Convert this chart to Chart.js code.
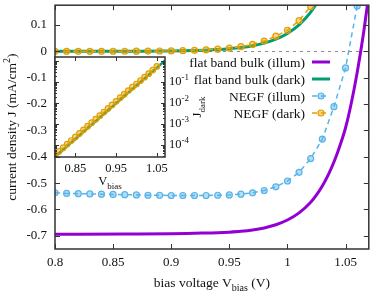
<!DOCTYPE html>
<html>
<head>
<meta charset="utf-8">
<script src="https://cdn.jsdelivr.net/npm/chart.js@4.4.1/dist/chart.umd.min.js"></script>
<style>
  html, body { margin: 0; padding: 0; background: #fff; }
  #wrap { position: relative; width: 374px; height: 291px; }
  #wrap canvas { position: absolute; left: 0; top: 0; }
</style>
</head>
<body>
<div id="wrap">
  <canvas id="mainChart" width="374" height="291"></canvas>
  <canvas id="insetChart" width="374" height="291"></canvas>
</div>
<script>
// flat band bulk (dark) - also used in the log inset
const vFbDark = [0.80, 0.81, 0.82, 0.83, 0.84, 0.85, 0.86, 0.87, 0.88, 0.89, 0.90, 0.91, 0.92, 0.93,
                 0.94, 0.95, 0.96, 0.97, 0.98, 0.99, 1.00, 1.01, 1.02, 1.03, 1.04, 1.05, 1.06, 1.07];
const fbDark = [2.72e-5, 4.02e-5, 5.94e-5, 8.79e-5, 1.30e-4, 1.92e-4, 2.84e-4, 4.20e-4, 6.21e-4, 9.2e-4,
                1.36e-3, 2.01e-3, 2.97e-3, 4.39e-3, 6.5e-3, 9.61e-3, 0.0142, 0.0210, 0.0311, 0.0460,
                0.068, 0.1006, 0.1488, 0.220, 0.325, 0.481, 0.712, 1.053];

// NEGF (dark)
const vNegfDark = [0.80, 0.81, 0.82, 0.83, 0.84, 0.85, 0.86, 0.87, 0.88, 0.89, 0.90, 0.91, 0.92,
                   0.93, 0.94, 0.95, 0.96, 0.97, 0.98, 0.99, 1.00, 1.01, 1.02, 1.03, 1.04, 1.05];
const negfDark = [3.4e-5, 5.0e-5, 7.4e-5, 1.1e-4, 1.63e-4, 2.4e-4, 3.55e-4, 5.25e-4, 7.8e-4, 1.15e-3,
                  1.7e-3, 2.5e-3, 3.7e-3, 5.5e-3, 8.1e-3, 0.012, 0.0178, 0.0263, 0.0389, 0.0575,
                  0.080, 0.117, 0.170, 0.25, 0.37, 0.55];

// NEGF (illum)
const vNegfIllum = [0.80, 0.81, 0.82, 0.83, 0.84, 0.85, 0.86, 0.87, 0.88, 0.89, 0.90, 0.91, 0.92, 0.93,
                    0.94, 0.95, 0.96, 0.97, 0.98, 0.99, 1.00, 1.01, 1.02, 1.03, 1.04, 1.05, 1.06];
const negfIllum = [-0.537, -0.539, -0.540, -0.541, -0.542, -0.543, -0.544, -0.545, -0.546, -0.546,
                   -0.547, -0.547, -0.547, -0.547, -0.546, -0.545, -0.542, -0.537, -0.528, -0.514,
                   -0.492, -0.459, -0.407, -0.333, -0.21, -0.063, 0.172];

// flat band bulk (illum)
const vFbIllum = [0.80, 0.86, 0.90, 0.92, 0.94, 0.95, 0.96, 0.97, 0.98, 0.99, 1.00, 1.01, 1.02,
                  1.025, 1.03, 1.035, 1.04, 1.045, 1.05, 1.055, 1.06, 1.065, 1.07];
const fbIllum = [-0.694, -0.693, -0.692, -0.690, -0.688, -0.686, -0.683, -0.678, -0.670, -0.658,
                 -0.640, -0.613, -0.573, -0.545, -0.511, -0.470, -0.420, -0.360, -0.290, -0.195,
                 -0.080, 0.055, 0.215];

const xTicks = [0.8, 0.85, 0.9, 0.95, 1, 1.05];
const xTickLabels = ['0.8', '0.85', '0.9', '0.95', '1', '1.05'];
const yTicks = [-0.7, -0.6, -0.5, -0.4, -0.3, -0.2, -0.1, 0, 0.1];
const yTickLabels = ['-0.7', '-0.6', '-0.5', '-0.4', '-0.3', '-0.2', '-0.1', '0', '0.1'];
const insetXTicks = [0.85, 0.95, 1.05];
const insetXTickLabels = ['0.85', '0.95', '1.05'];
const insetYTicks = [1e-4, 1e-3, 1e-2, 1e-1];
const insetYExp = ['-4', '-3', '-2', '-1'];

const SERIF = '"Liberation Serif", "DejaVu Serif", serif';
const FRAME = '#333';
const TEXT = '#111';
const C_PURPLE = '#9400D3';
const C_GREEN = '#009E73';
const C_BLUE = '#56B4E9';
const C_ORANGE = '#E69F00';

Chart.defaults.font.family = SERIF;
Chart.defaults.color = TEXT;

function toXY(xs, ys) {
    return xs.map((v, i) => ({ x: v, y: ys[i] }));
}

// 축 크기 고정 (라벨 여백 제거)
function fixHeight(h) {
    return s => { s.height = h; s.paddingLeft = 0; s.paddingRight = 0; };
}
function fixWidth(w) {
    return s => { s.width = w; s.paddingTop = 0; s.paddingBottom = 0; };
}

// text with sub/superscript parts, y is baseline
function drawRich(ctx, parts, x, y, size, align) {
    const small = Math.round(size * 0.72);
    let total = 0;
    const widths = parts.map(p => {
        ctx.font = (p[1] ? small : size) + 'px ' + SERIF;
        const w = ctx.measureText(p[0]).width;
        total += w;
        return w;
    });
    let cx = x;
    if (align === 'center') cx = x - total / 2;
    if (align === 'right') cx = x - total;
    ctx.textAlign = 'left';
    ctx.textBaseline = 'alphabetic';
    parts.forEach((p, i) => {
        ctx.font = (p[1] ? small : size) + 'px ' + SERIF;
        let dy = 0;
        if (p[1] === 'sub') dy = size * 0.3;
        if (p[1] === 'sup') dy = -size * 0.42;
        ctx.fillText(p[0], cx, y + dy);
        cx += widths[i];
    });
}

// 프레임, 눈금, 축 제목, 범례
const mainDecor = {
    id: 'mainDecor',
    beforeDatasetsDraw(chart) {
        const { ctx, chartArea: a, scales: { y } } = chart;
        const py = Math.round(y.getPixelForValue(0)) + 0.5;
        ctx.save();
        ctx.strokeStyle = '#8a8a8a';
        ctx.lineWidth = 1.2;
        ctx.setLineDash([3, 4]);
        ctx.beginPath();
        ctx.moveTo(a.left, py);
        ctx.lineTo(a.right, py);
        ctx.stroke();
        ctx.restore();
    },
    afterDatasetsDraw(chart) {
        const { ctx, chartArea: a, scales: { x, y } } = chart;
        ctx.save();
        ctx.strokeStyle = FRAME;
        ctx.lineWidth = 1;
        ctx.beginPath();
        xTicks.forEach(v => {
            const px = Math.round(x.getPixelForValue(v)) + 0.5;
            ctx.moveTo(px, a.bottom); ctx.lineTo(px, a.bottom - 5);
            ctx.moveTo(px, a.top); ctx.lineTo(px, a.top + 5);
        });
        yTicks.forEach(v => {
            const py = Math.round(y.getPixelForValue(v)) + 0.5;
            ctx.moveTo(a.left, py); ctx.lineTo(a.left + 5, py);
            ctx.moveTo(a.right, py); ctx.lineTo(a.right - 5, py);
        });
        ctx.stroke();
        ctx.lineWidth = 1.5;
        ctx.strokeRect(a.left, a.top, a.right - a.left, a.bottom - a.top);

        // axis titles
        ctx.fillStyle = TEXT;
        drawRich(ctx, [['bias voltage V', ''], ['bias', 'sub'], [' (V)', '']],
            (a.left + a.right) / 2, 286.5, 13.5, 'center');
        ctx.save();
        ctx.translate(16, (a.top + a.bottom) / 2);
        ctx.rotate(-Math.PI / 2);
        drawRich(ctx, [['current density J (mA/cm', ''], ['2', 'sup'], [')', '']], 0, 0, 13.5, 'center');
        ctx.restore();

        // legend
        const rows = chart.data.datasets.filter(d => d.label);
        rows.sort((p, q) => p.legendRank - q.legendRank);
        rows.forEach((d, i) => {
            const ry = 62 + i * 17;
            ctx.fillStyle = TEXT;
            ctx.font = '13.5px ' + SERIF;
            ctx.textAlign = 'right';
            ctx.textBaseline = 'middle';
            ctx.fillText(d.label, 305, ry + 1);
            ctx.strokeStyle = d.borderColor;
            ctx.lineWidth = d.borderWidth;
            ctx.setLineDash(d.borderDash || []);
            ctx.beginPath();
            ctx.moveTo(312, ry);
            ctx.lineTo(330, ry);
            ctx.stroke();
            ctx.setLineDash([]);
            if (d.pointRadius > 0) {
                ctx.beginPath();
                ctx.arc(321, ry, d.pointRadius, 0, Math.PI * 2);
                ctx.fillStyle = d.pointBackgroundColor;
                ctx.fill();
                ctx.lineWidth = d.pointBorderWidth;
                ctx.strokeStyle = d.pointBorderColor;
                ctx.stroke();
            }
        });
        ctx.restore();
    }
};

const mainChart = new Chart(document.getElementById('mainChart'), {
    type: 'line',
    data: {
        datasets: [{
            label: 'flat band bulk (illum)',
            legendRank: 0,
            data: toXY(vFbIllum, fbIllum),
            borderColor: C_PURPLE,
            borderWidth: 3,
            pointRadius: 0,
            cubicInterpolationMode: 'monotone',
            order: 4
        }, {
            label: 'flat band bulk (dark)',
            legendRank: 1,
            data: toXY(vFbDark, fbDark),
            borderColor: C_GREEN,
            borderWidth: 3,
            pointRadius: 0,
            cubicInterpolationMode: 'monotone',
            order: 3
        }, {
            label: 'NEGF (illum)',
            legendRank: 2,
            data: toXY(vNegfIllum, negfIllum),
            borderColor: C_BLUE,
            borderWidth: 1.5,
            borderDash: [5, 4],
            tension: 0,
            pointRadius: 3,
            pointBorderWidth: 1.2,
            pointBorderColor: C_BLUE,
            pointBackgroundColor: 'rgba(86,180,233,0.45)',
            order: 2
        }, {
            label: 'NEGF (dark)',
            legendRank: 3,
            data: toXY(vNegfDark, negfDark),
            borderColor: C_ORANGE,
            borderWidth: 1.5,
            borderDash: [5, 4],
            tension: 0,
            pointRadius: 3,
            pointBorderWidth: 1.2,
            pointBorderColor: C_ORANGE,
            pointBackgroundColor: 'rgba(230,159,0,0.45)',
            order: 1
        }]
    },
    options: {
        responsive: false,
        animation: false,
        devicePixelRatio: 1,
        layout: { padding: { left: 0, right: 2, top: 3, bottom: 0 } },
        scales: {
            x: {
                type: 'linear',
                min: 0.8,
                max: 1.07,
                afterBuildTicks: s => { s.ticks = xTicks.map(v => ({ value: v })); },
                afterFit: fixHeight(42),
                ticks: {
                    callback: (v, i) => xTickLabels[i],
                    font: { size: 13, family: SERIF },
                    color: TEXT,
                    padding: 6,
                    maxRotation: 0,
                    autoSkip: false
                },
                grid: { display: false, drawTicks: false },
                border: { display: false }
            },
            y: {
                type: 'linear',
                min: -0.75,
                max: 0.175,
                afterBuildTicks: s => { s.ticks = yTicks.map(v => ({ value: v })); },
                afterFit: fixWidth(55),
                ticks: {
                    callback: (v, i) => yTickLabels[i],
                    font: { size: 13, family: SERIF },
                    color: TEXT,
                    padding: 8,
                    autoSkip: false
                },
                grid: { display: false, drawTicks: false },
                border: { display: false }
            }
        },
        plugins: {
            legend: { display: false },
            tooltip: { enabled: false }
        }
    },
    plugins: [mainDecor]
});

// 인셋 (log)
const insetDecor = {
    id: 'insetDecor',
    beforeDatasetsDraw(chart) {
        const { ctx, chartArea: a } = chart;
        ctx.save();
        ctx.fillStyle = '#fff';
        ctx.fillRect(a.left, a.top, a.right - a.left, a.bottom - a.top);
        ctx.restore();
    },
    afterDatasetsDraw(chart) {
        const { ctx, chartArea: a, scales: { x, y } } = chart;
        ctx.save();
        ctx.strokeStyle = FRAME;
        ctx.lineWidth = 1;
        ctx.beginPath();
        insetXTicks.forEach(v => {
            const px = Math.round(x.getPixelForValue(v)) + 0.5;
            ctx.moveTo(px, a.bottom); ctx.lineTo(px, a.bottom - 4);
            ctx.moveTo(px, a.top); ctx.lineTo(px, a.top + 4);
        });
        for (let e = -5; e <= 0; e++) {
            for (let m = 1; m <= 9; m++) {
                const v = m * Math.pow(10, e);
                if (v < y.min || v > y.max) continue;
                const py = Math.round(y.getPixelForValue(v)) + 0.5;
                const len = m === 1 ? 4 : 2;
                ctx.moveTo(a.right, py); ctx.lineTo(a.right - len, py);
                ctx.moveTo(a.left, py); ctx.lineTo(a.left + len, py);
            }
        }
        ctx.stroke();
        ctx.lineWidth = 1.5;
        ctx.strokeRect(a.left, a.top, a.right - a.left, a.bottom - a.top);

        ctx.fillStyle = TEXT;
        insetYTicks.forEach((v, i) => {
            drawRich(ctx, [['10', ''], [insetYExp[i], 'sup']], a.right + 4, y.getPixelForValue(v) + 3, 12.5, 'left');
        });
        drawRich(ctx, [['V', ''], ['bias', 'sub']], (a.left + a.right) / 2, 185, 12.5, 'center');
        ctx.save();
        ctx.translate(201, (a.top + a.bottom) / 2);
        ctx.rotate(-Math.PI / 2);
        drawRich(ctx, [['J', ''], ['dark', 'sub']], 0, 0, 12.5, 'center');
        ctx.restore();
        ctx.restore();
    }
};

const insetChart = new Chart(document.getElementById('insetChart'), {
    type: 'line',
    data: {
        datasets: [{
            data: toXY(vFbDark, fbDark),
            borderColor: C_GREEN,
            borderWidth: 2.5,
            pointRadius: 0,
            order: 2
        }, {
            data: toXY(vNegfDark, negfDark),
            borderColor: C_ORANGE,
            borderWidth: 1.2,
            borderDash: [4, 3],
            pointRadius: 2.8,
            pointBorderWidth: 1.2,
            pointBorderColor: C_ORANGE,
            pointBackgroundColor: 'rgba(230,159,0,0.45)',
            order: 1
        }]
    },
    options: {
        responsive: false,
        animation: false,
        devicePixelRatio: 1,
        layout: { padding: { left: 55, top: 57, right: 0, bottom: 0 } },
        scales: {
            x: {
                type: 'linear',
                min: 0.8,
                max: 1.07,
                afterBuildTicks: s => { s.ticks = insetXTicks.map(v => ({ value: v })); },
                afterFit: fixHeight(134),
                ticks: {
                    callback: (v, i) => insetXTickLabels[i],
                    font: { size: 12.5, family: SERIF },
                    color: TEXT,
                    padding: 4,
                    maxRotation: 0,
                    autoSkip: false
                },
                grid: { display: false, drawTicks: false },
                border: { display: false }
            },
            y: {
                type: 'logarithmic',
                position: 'right',
                min: 2.68e-5,
                max: 1.55,
                afterFit: fixWidth(209),
                ticks: { display: false },
                grid: { display: false, drawTicks: false },
                border: { display: false }
            }
        },
        plugins: {
            legend: { display: false },
            tooltip: { enabled: false }
        }
    },
    plugins: [insetDecor]
});
</script>
</body>
</html>
